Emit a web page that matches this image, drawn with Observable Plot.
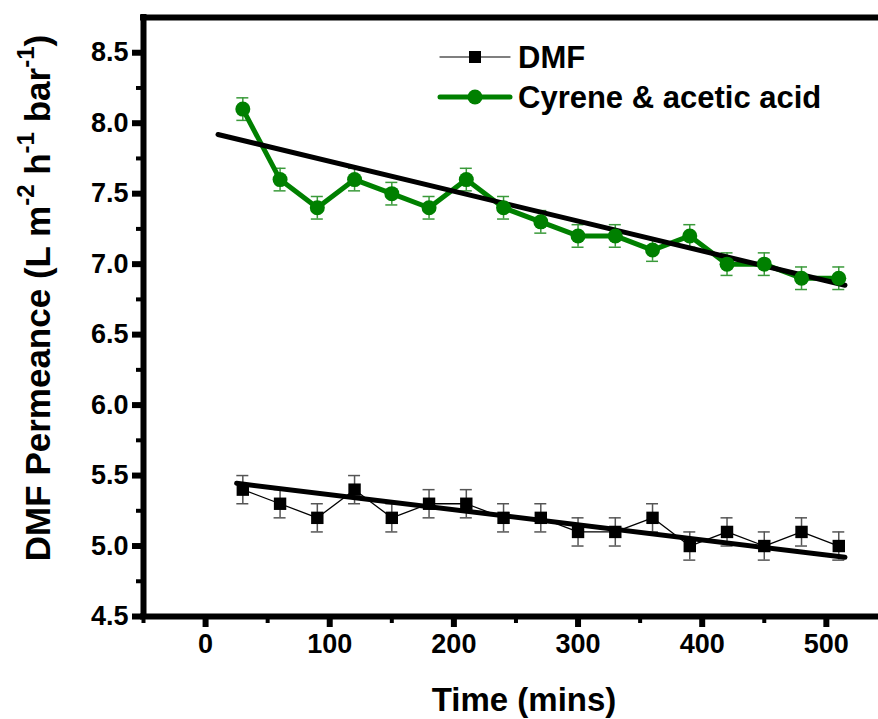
<!DOCTYPE html>
<html>
<head>
<meta charset="utf-8">
<script src="https://cdn.jsdelivr.net/npm/d3@7"></script>
<script src="https://cdn.jsdelivr.net/npm/@observablehq/plot@0.6"></script>
<style>
  html, body { margin: 0; padding: 0; background: #fff; }
  #chart { width: 878px; height: 719px; overflow: hidden; }
</style>
</head>
<body>
<div id="chart"></div>
<script>
// ---- data ----
const times = [30, 60, 90, 120, 150, 180, 210, 240, 270, 300, 330, 360, 390, 420, 450, 480, 510];
const cyrene = [8.1, 7.6, 7.4, 7.6, 7.5, 7.4, 7.6, 7.4, 7.3, 7.2, 7.2, 7.1, 7.2, 7.0, 7.0, 6.9, 6.9];
const cyreneErr = [0.08, 0.08, 0.08, 0.08, 0.08, 0.08, 0.08, 0.08, 0.08, 0.08, 0.08, 0.08, 0.08, 0.08, 0.08, 0.08, 0.08];
const dmf = [5.4, 5.3, 5.2, 5.4, 5.2, 5.3, 5.3, 5.2, 5.2, 5.1, 5.1, 5.2, 5.0, 5.1, 5.0, 5.1, 5.0];
const dmfErr = [0.1, 0.1, 0.1, 0.1, 0.1, 0.1, 0.1, 0.1, 0.1, 0.1, 0.1, 0.1, 0.1, 0.1, 0.1, 0.1, 0.1];
// linear fit lines (endpoints)
const fitCyreneX = [10, 515];
const fitCyreneY = [7.92, 6.85];
const fitDmfX = [25, 515];
const fitDmfY = [5.445, 4.92];
const xTicks = [0, 100, 200, 300, 400, 500];
const xMinor = [-50, 50, 150, 250, 350, 450];
const yTicks = [4.5, 5.0, 5.5, 6.0, 6.5, 7.0, 7.5, 8.0, 8.5];
const yMinor = [4.75, 5.25, 5.75, 6.25, 6.75, 7.25, 7.75, 8.25];
const seriesNames = ["DMF", "Cyrene & acetic acid"];

const GREEN = "#008000";
const cyr = times.map((t, i) => ({t, v: cyrene[i], e: cyreneErr[i]}));
const dm = times.map((t, i) => ({t, v: dmf[i], e: dmfErr[i]}));
const fitC = fitCyreneX.map((x, i) => ({x, y: fitCyreneY[i]}));
const fitD = fitDmfX.map((x, i) => ({x, y: fitDmfY[i]}));

const FONT = "'Liberation Sans', Arial, sans-serif";

const plot = Plot.plot({
  width: 878,
  height: 719,
  marginLeft: 143,
  marginRight: 0,
  marginTop: 17,
  marginBottom: 103,
  style: {fontFamily: FONT, fontWeight: "bold", color: "black", background: "white", overflow: "visible"},
  x: {domain: [-50, 542], axis: null},
  y: {domain: [4.5, 8.75], axis: null},
  marks: [
    // minor ticks
    Plot.axisX(xMinor, {tickSize: 7, strokeWidth: 4, tickFormat: () => "", label: null}),
    Plot.axisY(yMinor, {tickSize: 7, strokeWidth: 4, tickFormat: () => "", label: null}),
    // major ticks + labels
    Plot.axisX(xTicks, {tickSize: 11, strokeWidth: 6, tickPadding: 6, fontSize: 27, fontWeight: "bold", label: null}),
    Plot.axisY(yTicks, {tickSize: 11, strokeWidth: 6, tickPadding: 4, fontSize: 27, fontWeight: "bold", tickFormat: d3.format(".1f"), label: null}),
    // frame (left, top, bottom)
    Plot.ruleX([-50], {y1: 4.5, y2: 8.75, strokeWidth: 6, strokeLinecap: "square"}),
    Plot.ruleY([8.75], {strokeWidth: 6, strokeLinecap: "square"}),
    Plot.ruleY([4.5], {strokeWidth: 6, strokeLinecap: "square"}),
    // error bars
    Plot.ruleX(dm, {x: "t", y1: d => d.v - d.e, y2: d => d.v + d.e, stroke: "#555", strokeWidth: 1.5}),
    Plot.ruleY(dm, {y: d => d.v + d.e, x1: "t", x2: "t", insetLeft: -6, insetRight: -6, stroke: "#555", strokeWidth: 1.5}),
    Plot.ruleY(dm, {y: d => d.v - d.e, x1: "t", x2: "t", insetLeft: -6, insetRight: -6, stroke: "#555", strokeWidth: 1.5}),
    Plot.ruleX(cyr, {x: "t", y1: d => d.v - d.e, y2: d => d.v + d.e, stroke: "#3a9a3a", strokeWidth: 1.5}),
    Plot.ruleY(cyr, {y: d => d.v + d.e, x1: "t", x2: "t", insetLeft: -6, insetRight: -6, stroke: "#3a9a3a", strokeWidth: 1.5}),
    Plot.ruleY(cyr, {y: d => d.v - d.e, x1: "t", x2: "t", insetLeft: -6, insetRight: -6, stroke: "#3a9a3a", strokeWidth: 1.5}),
    // series lines
    Plot.line(dm, {x: "t", y: "v", stroke: "black", strokeWidth: 1.3}),
    Plot.line(cyr, {x: "t", y: "v", stroke: GREEN, strokeWidth: 5}),
    // fit lines
    Plot.line(fitD, {x: "x", y: "y", stroke: "black", strokeWidth: 5}),
    Plot.line(fitC, {x: "x", y: "y", stroke: "black", strokeWidth: 5}),
    // markers
    Plot.dot(dm, {x: "t", y: "v", symbol: "square", r: 7, fill: "black", stroke: "none"}),
    Plot.dot(cyr, {x: "t", y: "v", r: 7.5, fill: GREEN, stroke: "none"}),
    // x title
    Plot.text(["Time (mins)"], {frameAnchor: "bottom", dx: 13, dy: 94, fontSize: 33, fontWeight: "bold", fill: "black"})
  ]
});

const svg = d3.select(plot);

// y axis title with superscripts
const yt = svg.append("text")
  .attr("transform", "translate(41,298) rotate(-90)")
  .attr("text-anchor", "middle")
  .attr("dominant-baseline", "middle")
  .attr("font-family", FONT)
  .attr("font-weight", "bold")
  .attr("font-size", 35)
  .attr("fill", "black");
const parts = [["DMF Permeance (L m", false], ["-2", true], [" h", false], ["-1", true], [" bar", false], ["-1", true], [")", false]];
let up = false;
for (const [s, sup] of parts) {
  const ts = yt.append("tspan").text(s);
  if (sup) { ts.attr("font-size", 24).attr("dy", -13); up = true; }
  else if (up) { ts.attr("dy", 13); up = false; }
}

// legend
const legend = svg.append("g").attr("font-family", FONT).attr("font-weight", "bold").attr("text-anchor", "start");
const legItems = [
  {name: seriesNames[0], y: 57, color: "black", lw: 1.3, sym: "square"},
  {name: seriesNames[1], y: 97, color: GREEN, lw: 5, sym: "circle"}
];
for (const it of legItems) {
  legend.append("line").attr("x1", 440).attr("x2", 510).attr("y1", it.y).attr("y2", it.y)
    .attr("stroke", it.sym === "square" ? "#555" : it.color).attr("stroke-width", it.lw).attr("stroke-linecap", "round");
  if (it.sym === "square") {
    legend.append("rect").attr("x", 469).attr("y", it.y - 6).attr("width", 12).attr("height", 12).attr("fill", "black");
  } else {
    legend.append("circle").attr("cx", 475).attr("cy", it.y).attr("r", 7.5).attr("fill", it.color);
  }
  legend.append("text").attr("x", 518).attr("y", it.y).attr("dy", "0.36em").attr("text-anchor", "start")
    .attr("font-size", 31).attr("fill", "black").text(it.name);
}

document.getElementById("chart").appendChild(plot);
</script>
</body>
</html>
